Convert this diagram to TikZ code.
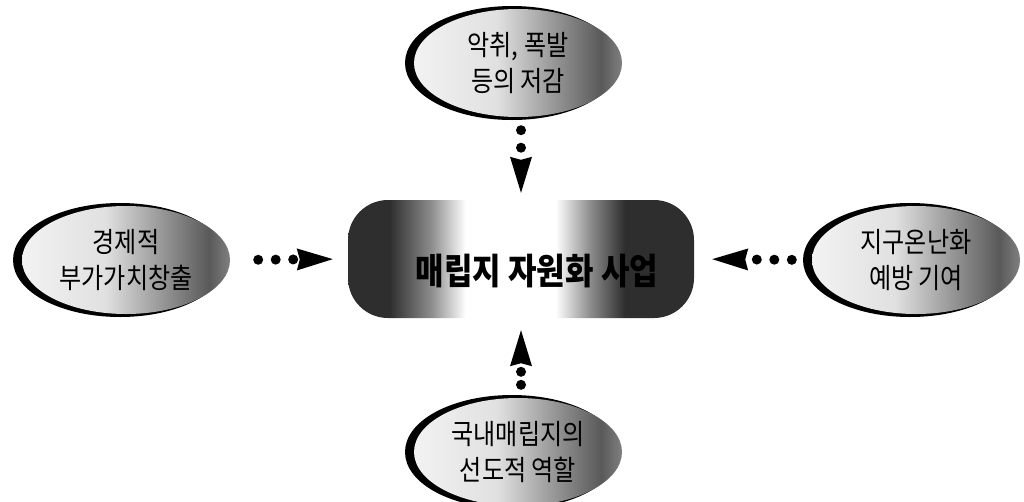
\documentclass[tikz,border=0pt]{standalone}
\usepackage{fontspec}
\newfontfamily\kr[FakeStretch=0.86]{Noto Sans CJK KR}
\usetikzlibrary{arrows.meta,shapes.geometric}
\pgfdeclarehorizontalshading{boxshade}{100bp}{color(0bp)=(black!82); color(31bp)=(black!82); color(37bp)=(black!45); color(42bp)=(white); color(55bp)=(white); color(60bp)=(black!45); color(65bp)=(black!82); color(100bp)=(black!82)}
\pgfdeclarehorizontalshading{goalshade}{100bp}{color(0bp)=(black!5); color(25bp)=(black!5); color(45bp)=(black!12); color(62bp)=(black!48); color(70bp)=(black!65); color(75bp)=(black!50); color(100bp)=(black!50)}
\tikzset{
  goal/.style={ellipse, shade, shading=goalshade, minimum width=208pt, minimum height=108pt, inner sep=0pt, align=center, font=\kr\fontsize{28}{36}\selectfont, preaction={fill=black, draw=black, line width=6pt, transform canvas={xshift=-6pt}}},
  hub/.style={rectangle, rounded corners=40pt, shade, shading=boxshade, minimum width=346pt, minimum height=118pt},
  link/.style={line width=10pt, line cap=round, dash pattern=on 0pt off 17.5pt, -{Stealth[length=36pt,width=22pt,inset=3pt,line width=0pt]}}
}
\begin{document}
\begin{tikzpicture}[x=1pt,y=-1pt]
    \useasboundingbox (0,0) rectangle (1024,501);
    % the project in the middle
    \node[hub] (hub) at (521,259) {};
    \node[font=\kr\bfseries\fontsize{36}{40}\selectfont] (title) at (537,271) {매립지 자원화 사업};

    % the four effects round it
    \node[goal] (top) at (518,63) {악취, 폭발\\등의 저감};
    \node[goal] (left) at (126,260) {경제적\\부가가치창출};
    \node[goal] (right) at (916,260) {지구온난화\\예방 기여};
    \node[goal] (bottom) at (518,452) {국내매립지의\\선도적 역할};

    % dotted arrows into the project
    \draw[link, shorten <=13pt, shorten >=7pt] (top.south -| hub.north) -- (hub.north);
    \draw[link, shorten <=28pt, shorten >=15pt] (left.east) -- (hub.west);
    \draw[link, shorten <=20pt, shorten >=18pt] (right.west) -- (hub.east);
    \draw[link, dash pattern=on 0pt off 13pt, shorten <=13pt, shorten >=12pt] (bottom.north -| hub.south) -- (hub.south);
\end{tikzpicture}
\end{document}
